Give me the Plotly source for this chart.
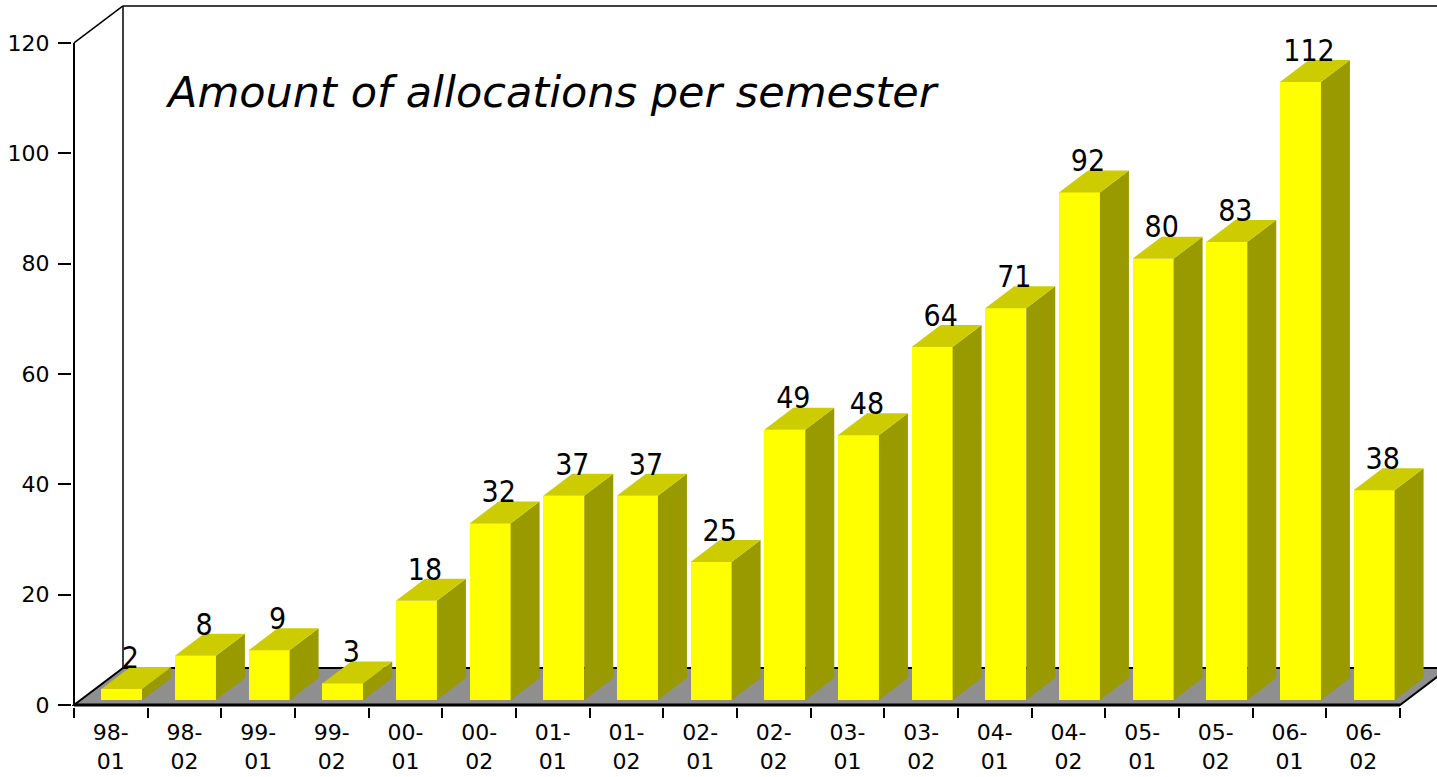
import plotly.graph_objects as go

# ---- data ----
semesters = ["98-01", "98-02", "99-01", "99-02", "00-01", "00-02", "01-01", "01-02", "02-01",
             "02-02", "03-01", "03-02", "04-01", "04-02", "05-01", "05-02", "06-01", "06-02"]
allocations = [2, 8, 9, 3, 18, 32, 37, 37, 25, 49, 48, 64, 71, 92, 80, 83, 112, 38]
y_ticks = [0, 20, 40, 60, 80, 100, 120]
title_text = "Amount of allocations per semester"

# ---- geometry (pixel scale of the reference) ----
PX_X = 73.667          # pixels per category
PX_Y = 5.517           # pixels per value unit
DX = 49 / PX_X         # full floor depth (x units)
DY = 37 / PX_Y         # full floor depth (y units)
BAR_A = 0.37           # bar left offset inside category
BAR_W = 41 / PX_X      # bar front width
BAR_DX = 29 / PX_X     # bar depth x
BAR_DY = 22 / PX_Y     # bar depth y
BASE = 5 / PX_Y        # bar front base lift (sits back from front edge)
N = len(semesters)

FRONT = "#FFFF00"
TOP = "#CCCC00"
SIDE = "#999900"
FLOOR = "#8f8f8f"

W, H = 1437, 777
ML, MR, MT, MB = 72, 0, 5, 70
xr = [-2 / PX_X, (W - ML - MR - 2) / PX_X]
yr = [-2 / PX_Y, (H - MT - MB - 2) / PX_Y]

fig = go.Figure()

# side faces and top faces as polygons
sx, sy, tx, ty = [], [], [], []
for i, v in enumerate(allocations):
    x0 = i + BAR_A
    x1 = x0 + BAR_W
    top = BASE + v
    sx += [x1, x1 + BAR_DX, x1 + BAR_DX, x1, x1, None]
    sy += [BASE, BASE + BAR_DY, top + BAR_DY, top, BASE, None]
    tx += [x0, x1, x1 + BAR_DX, x0 + BAR_DX, x0, None]
    ty += [top, top, top + BAR_DY, top + BAR_DY, top, None]

fig.add_trace(go.Bar(
    x=[i + BAR_A + BAR_W / 2 for i in range(N)], y=allocations, base=BASE,
    width=BAR_W, marker=dict(color=FRONT, line=dict(width=0)),
    hovertext=semesters, name="allocations", showlegend=False))
fig.add_trace(go.Scatter(x=sx, y=sy, mode="lines", fill="toself", fillcolor=SIDE,
                         line=dict(width=0, color=SIDE), hoverinfo="skip", showlegend=False))
fig.add_trace(go.Scatter(x=tx, y=ty, mode="lines", fill="toself", fillcolor=TOP,
                         line=dict(width=0, color=TOP), hoverinfo="skip", showlegend=False))

# value labels
fig.add_trace(go.Scatter(
    x=[i + 0.765 for i in range(N)], y=[v + BASE + 5.2 for v in allocations],
    mode="text", text=[str(v) for v in allocations], textposition="middle center",
    textfont=dict(family="DejaVu Sans Condensed, DejaVu Sans", size=30, color="black"),
    hoverinfo="skip", showlegend=False, cliponaxis=False))

shapes = []
# floor
shapes.append(dict(type="path", xref="x", yref="y", layer="below",
                   path=f"M 0,0 L {N},0 L {N + DX},{DY} L {DX},{DY} Z",
                   fillcolor=FLOOR, line=dict(color="black", width=2)))
# front edge thicker
shapes.append(dict(type="line", xref="x", yref="y", layer="above", x0=0, x1=N, y0=0, y1=0,
                   line=dict(color="black", width=3)))
# left wall
ymax = y_ticks[-1]
shapes.append(dict(type="line", xref="x", yref="y", layer="below", x0=0, x1=0, y0=0, y1=ymax,
                   line=dict(color="black", width=2)))
shapes.append(dict(type="line", xref="x", yref="y", layer="below", x0=0, x1=DX, y0=ymax, y1=ymax + DY,
                   line=dict(color="black", width=1.5)))
shapes.append(dict(type="line", xref="x", yref="y", layer="below", x0=DX, x1=DX, y0=DY, y1=ymax + DY,
                   line=dict(color="black", width=1.5)))
shapes.append(dict(type="line", xref="x", yref="y", layer="below", x0=DX, x1=N + DX, y0=ymax + DY, y1=ymax + DY,
                   line=dict(color="black", width=1.5)))

fig.update_layout(
    width=W, height=H,
    margin=dict(l=ML, r=MR, t=MT, b=MB),
    paper_bgcolor="white", plot_bgcolor="white",
    shapes=shapes,
    bargap=0,
    font=dict(family="DejaVu Sans", color="black"),
    annotations=[dict(text=title_text, xref="paper", yref="paper",
                      x=(163 - ML) / (W - ML - MR), y=(H - MB - 92) / (H - MT - MB),
                      xanchor="left", yanchor="middle", showarrow=False,
                      font=dict(family="DejaVu Sans", size=43, color="black", style="italic"))],
    xaxis=dict(range=xr, showgrid=False, zeroline=False, showline=False,
               tickmode="array", tickvals=[i + 0.5 for i in range(N)],
               ticktext=[s.replace("-", "-<br>") for s in semesters],
               ticks="", tickfont=dict(size=22, family="DejaVu Sans", color="black"),
               ticklabelstandoff=10,
               minor=dict(ticks="outside", tickmode="array", tickvals=list(range(N + 1)),
                          ticklen=10, tickwidth=1.5, tickcolor="black")),
    yaxis=dict(range=yr, showgrid=False, zeroline=False, showline=False,
               tickmode="array", tickvals=y_ticks, ticks="outside", ticklen=13,
               tickwidth=1.5, tickcolor="black",
               tickfont=dict(size=22, family="DejaVu Sans", color="black"),
               ticklabelstandoff=4),
)

fig.write_html("out.html", config={"displayModeBar": False},
               post_script="document.body.style.margin='0';")
